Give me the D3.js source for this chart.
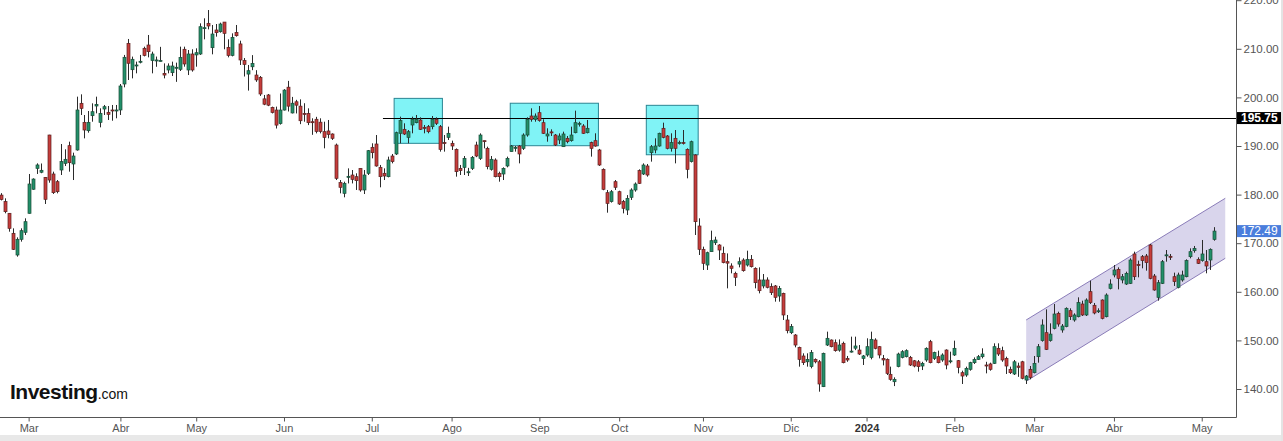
<!DOCTYPE html>
<html><head><meta charset="utf-8">
<script src="https://cdn.jsdelivr.net/npm/d3@7"></script>
<style>
html,body{margin:0;padding:0;background:#fff;overflow:hidden;}
svg{display:block;}
text{font-family:"Liberation Sans",Arial,sans-serif;}
</style></head><body>
<svg id="c" width="1283" height="441"></svg>
<script>
const openP=[
179.9,178.55,176.15,172.03,167.57,170.8,172.24,176.15,181.1,185.4,
184.6,183.55,192.26,184.24,182.66,185.06,186.43,190.07,186.3,189.18,
198.78,194.87,193.15,196.24,198.23,194.87,197.61,196.93,197.41,197.2,
197.41,202.76,211.12,205.7,206.6,207.29,210.1,210.78,207.57,207.5,
207.5,204.95,205.64,205.09,206.0,205.78,209.9,205.64,208.93,208.74,
208.93,214.2,215.24,210.23,213.87,213.52,215.5,210.3,208.65,213.38,
211.0,207.57,204.8,206.3,204.6,204.13,199.7,200.5,197.95,197.4,
194.6,197.4,202.1,196.8,199.1,198.2,196.7,196.7,195.0,195.5,
194.9,192.95,193.09,192.47,190.2,182.46,180.26,183.55,184.03,183.69,
185.4,180.95,184.38,189.73,190.41,185.61,184.38,183.69,187.94,188.36,
192.61,193.43,191.78,194.32,194.8,195.35,193.84,193.98,193.98,195.49,
193.98,190.69,191.78,190.55,189.31,185.4,185.61,184.6,185.4,190.2,
187.46,191.1,189.52,185.2,187.12,184.38,184.24,185.89,188.84,189.7,
190.0,189.52,192.26,196.17,195.49,196.86,194.8,192.06,192.9,192.26,
191.24,189.86,191.58,191.1,192.74,194.6,194.12,192.74,190.69,191.1,
189.18,185.2,180.4,178.55,182.66,180.6,178.55,176.83,179.44,180.95,
184.93,184.24,185.89,188.63,189.18,190.0,193.64,192.06,189.52,191.58,
190.6,190.7,189.31,186.78,188.15,173.54,168.74,165.51,168.26,170.1,
169.63,167.92,166.2,165.31,163.8,165.7,166.54,165.51,166.68,164.83,
162.43,161.2,162.43,161.06,161.2,159.13,159.68,154.2,151.59,151.11,
148.57,146.79,145.6,144.6,146.1,145.6,140.48,149.05,150.08,149.53,
148.0,149.4,146.3,147.7,148.4,148.02,146.3,147.0,146.5,150.08,
148.71,146.3,146.1,143.02,141.5,144.6,146.5,146.65,146.5,145.8,
145.6,144.73,145.97,149.74,146.3,146.65,145.97,148.02,145.7,147.0,
145.83,143.36,142.88,144.05,145.42,146.1,146.65,144.94,145.15,145.28,
148.37,147.89,146.3,144.05,143.09,144.73,145.6,141.85,144.05,143.36,
146.65,149.95,151.59,149.95,152.48,155.57,152.14,152.83,156.12,154.2,
154.88,157.49,155.23,160.03,157.22,156.05,158.31,154.88,160.71,163.46,
164.62,162.43,161.6,161.74,167.78,165.6,167.23,167.37,169.63,163.25,
158.86,161.74,167.5,167.3,163.11,160.92,162.43,163.11,167.23,168.46,
166.68,166.41,166.2,166.54,170.79];
const highP=[
180.3,179.23,176.2,173.06,171.2,173.06,175.12,184.24,183.35,186.43,
186.4,183.6,192.3,184.72,183.0,190.41,189.32,190.89,188.63,200.15,
200.63,196.38,197.2,198.78,200.15,197.75,198.44,198.23,198.44,198.44,
202.76,208.74,212.02,208.39,207.36,208.74,210.44,212.84,209.41,208.4,
210.4,207.0,207.0,207.36,207.15,210.44,210.44,209.75,209.9,210.1,
215.24,216.27,217.98,214.9,215.1,215.38,215.5,211.95,213.18,214.9,
211.67,208.1,206.67,208.7,205.6,204.4,200.5,200.7,198.1,198.1,
200.8,201.7,203.4,200.1,199.5,199.6,198.8,197.75,195.7,196.0,
195.7,195.0,195.35,192.6,190.5,183.0,182.66,185.4,185.06,184.38,
185.4,185.06,189.18,190.55,192.26,186.1,185.4,187.81,188.36,192.95,
196.04,194.67,193.29,196.04,196.38,195.9,194.32,194.32,196.17,195.9,
194.32,192.26,193.98,191.1,189.5,186.1,187.94,185.5,187.94,190.89,
192.6,191.1,189.86,187.94,187.46,184.72,185.61,187.81,190.2,190.0,
190.2,192.6,195.9,197.75,196.7,198.23,195.49,193.64,193.43,192.47,
192.6,192.95,192.06,193.98,197.27,195.0,194.5,195.35,190.9,192.61,
189.4,185.4,180.95,180.95,183.0,180.8,178.9,179.9,181.3,182.5,
185.2,186.43,186.3,190.2,191.58,192.74,194.8,192.26,192.61,193.29,
191.1,193.29,189.52,191.1,188.3,175.12,169.29,168.26,172.58,171.34,
169.8,169.29,167.9,165.86,164.14,167.09,166.9,168.46,167.57,165.03,
165.03,163.66,162.98,161.74,161.4,161.2,159.82,155.23,153.37,151.3,
148.71,147.34,147.34,148.02,146.3,145.97,147.48,151.8,150.2,150.2,
150.2,149.74,146.8,150.77,150.77,149.05,147.0,150.43,151.8,150.43,
148.85,147.0,146.3,144.6,142.4,147.48,148.0,148.16,146.8,145.97,
145.97,145.6,148.57,150.1,147.68,147.89,147.34,148.16,147.68,149.95,
145.97,143.77,144.6,145.6,146.5,147.0,148.37,145.6,145.42,149.4,
149.4,148.71,146.65,144.6,145.97,145.42,145.8,142.88,144.73,146.79,
149.26,154.33,156.39,153.51,157.49,155.91,153.37,156.8,156.6,155.57,
158.86,158.17,158.65,162.29,157.7,156.6,158.45,159.68,162.57,165.51,
165.03,163.66,164.14,166.89,168.26,166.41,167.57,167.78,169.84,163.66,
162.43,166.54,168.6,167.78,163.94,163.94,164.35,166.68,168.94,169.43,
167.09,170.66,168.6,168.94,173.3];
const lowP=[
178.8,176.15,172.37,168.6,167.23,170.32,171.69,176.1,181.0,184.24,
184.4,178.07,182.45,180.13,180.26,184.03,185.88,184.72,183.0,189.04,
196.38,191.57,192.74,195.0,196.72,193.84,196.38,195.35,195.2,195.7,
196.38,202.07,203.58,203.92,204.95,207.0,208.44,208.24,204.95,206.3,
207.4,203.92,204.95,204.4,203.2,205.43,206.32,204.6,205.3,206.32,
208.74,211.95,214.0,208.86,212.5,213.32,209.9,208.24,208.44,212.5,
206.67,204.3,201.4,205.6,203.2,200.3,198.4,198.2,196.7,193.6,
194.4,197.3,197.1,196.7,196.7,194.5,195.0,194.3,192.3,192.6,
192.6,189.52,191.58,191.24,183.0,180.26,179.44,182.3,182.3,180.95,
180.6,180.12,184.03,187.46,185.75,181.5,183.0,183.55,186.43,188.15,
190.55,192.26,190.55,192.61,194.67,193.29,192.61,192.61,193.43,194.32,
188.84,188.84,191.24,189.18,183.69,184.03,184.03,183.83,185.06,187.7,
187.12,189.52,185.2,184.93,183.55,182.66,183.0,185.61,188.84,188.84,
186.43,189.18,191.92,195.0,195.0,195.0,192.47,190.89,192.06,190.0,
190.4,189.86,190.55,190.89,192.61,194.0,192.47,192.6,187.81,189.86,
185.9,180.9,176.28,178.35,180.95,177.87,176.14,175.8,178.9,180.6,
182.2,184.03,183.69,186.78,188.5,189.86,191.58,189.31,188.84,186.43,
190.3,190.3,183.35,186.6,171.69,167.57,164.49,164.49,168.26,169.63,
166.54,165.86,160.71,163.8,161.2,165.03,164.14,165.2,165.0,160.71,
159.68,160.71,160.71,159.34,157.97,157.97,154.2,151.45,151.3,148.57,
144.6,144.94,144.6,144.25,145.28,139.45,140.4,148.85,148.57,147.68,
147.68,145.28,145.6,147.5,148.0,147.0,144.94,146.65,146.1,148.16,
146.3,144.86,142.88,141.7,140.6,144.46,146.3,146.5,144.73,144.46,
143.57,143.9,145.6,145.28,145.97,145.28,145.6,144.05,145.28,146.8,
143.22,141.03,142.5,143.77,145.15,145.97,146.3,143.22,143.77,145.15,
146.8,145.6,143.09,143.09,142.88,142.5,141.99,141.03,141.99,143.22,
145.42,149.74,148.02,149.74,152.27,152.83,151.59,152.7,154.2,153.85,
154.74,155.02,155.02,157.49,155.36,155.64,154.33,154.74,160.5,162.98,
160.5,161.74,161.4,161.6,162.43,162.98,164.83,164.35,162.57,160.23,
158.17,161.6,166.2,166.54,161.2,160.71,162.09,162.98,166.89,168.05,
165.72,166.2,163.8,164.49,170.52];
const closeP=[
179.0,176.49,173.06,168.74,170.8,172.58,174.43,182.18,183.2,186.1,
185.0,179.03,183.0,180.4,180.6,186.78,187.26,186.57,187.94,197.41,
197.75,193.29,194.87,197.06,198.57,196.72,198.09,196.52,197.27,197.41,
202.35,208.25,207.02,207.84,206.67,207.43,208.65,209.41,208.93,207.7,
207.6,204.6,206.46,206.46,206.2,208.24,206.88,208.93,205.64,209.2,
214.55,214.35,214.69,213.04,213.32,215.1,213.18,208.65,212.36,212.7,
207.7,206.8,205.5,207.0,203.6,200.7,198.6,198.4,196.9,194.3,
197.4,201.5,198.2,198.8,198.4,195.2,196.6,194.8,194.8,193.0,
193.0,191.78,192.4,191.58,183.35,181.5,182.32,183.76,183.14,182.87,
180.95,184.03,189.04,188.63,185.89,183.69,183.83,187.12,186.78,192.74,
195.22,192.47,192.95,195.49,195.49,193.43,193.64,192.95,195.49,194.67,
189.31,190.6,192.61,190.0,184.72,184.93,187.46,184.7,187.67,187.94,
192.26,191.0,185.75,187.26,183.69,183.69,185.4,187.46,190.0,189.73,
188.36,192.26,195.49,195.49,196.17,195.22,192.61,192.47,192.8,190.2,
192.06,192.47,190.89,192.26,194.8,194.67,192.61,193.64,189.52,190.0,
186.09,181.09,178.2,180.6,181.5,178.07,177.18,179.23,180.95,182.18,
182.32,186.09,184.03,189.86,190.0,192.61,191.78,189.52,190.69,189.52,
190.7,190.6,185.2,190.89,174.43,168.74,165.86,168.05,170.52,170.66,
168.6,166.0,165.9,164.83,162.98,166.2,164.35,166.68,165.17,161.88,
160.23,162.43,160.92,159.82,158.86,160.71,155.23,152.0,152.83,149.05,
146.1,145.42,146.1,147.48,145.6,141.03,147.34,150.43,148.71,147.89,
149.05,145.42,145.97,147.8,148.85,147.2,146.8,148.71,150.22,148.37,
147.0,145.97,143.22,141.99,141.99,147.2,147.68,147.89,144.94,144.73,
144.6,145.28,148.37,145.42,147.48,145.42,147.0,144.94,145.8,148.37,
144.46,142.67,144.25,145.42,146.1,146.65,147.2,144.73,144.05,148.71,
147.2,145.97,144.73,143.36,145.6,144.46,142.2,142.67,142.4,145.28,
148.71,153.17,148.16,151.3,155.43,153.37,152.96,156.6,154.88,155.23,
157.77,155.23,158.31,157.77,155.64,156.1,154.54,159.34,161.6,164.49,
162.77,163.11,163.8,166.54,163.11,165.5,166.41,166.0,162.77,160.37,
161.88,166.2,167.6,167.2,162.09,163.46,163.46,166.41,168.26,168.94,
165.86,167.78,165.31,168.74,172.49];

// month ticks (candle index) and labels
const tickIdx=[7,30,49,71,93,113,135,155,176,198,217,239,259,279,301];
const tickLabels=["Mar","Abr","May","Jun","Jul","Ago","Sep","Oct","Nov","Dic","2024","Feb","Mar","Abr","May"];
const priceTicks=[140,150,160,170,180,190,200,210,220];

// annotations (candle index, price)
const boxStart=[98.6,127.7,161.8];
const boxEnd=[110.7,149.8,174.8];
const boxTop=[199.8,198.8,198.37];
const boxBottom=[190.55,190.06,188.2];
const resistanceLevel=195.75, resistanceStart=95.8;
const lastPrice=172.49;
const channelIdx=[257,306.9,306.9,257];
const channelPrice=[154.2,179.24,166.9,141.6];

const svg=d3.select("#c");
const plotRight=1236, plotBottom=417;
const x=d3.scaleLinear().domain([0,304]).range([0.7,1213.7]);
const y=d3.scaleLinear().domain([140,220]).range([389,0.2]);

// background strips
svg.append("rect").attr("x",0).attr("y",435).attr("width",1283).attr("height",6).attr("fill","#e8e8e8");
svg.append("rect").attr("x",1281).attr("y",0).attr("width",2).attr("height",441).attr("fill","#e4e4e4");

const plot=svg.append("g");

// channel
const chPts=channelIdx.map((d,i)=>[x(d),y(channelPrice[i])]);
plot.append("path").attr("d","M"+chPts.map(p=>p.join(",")).join("L")+"Z")
  .attr("fill","#d9d5ec").attr("stroke","none");
plot.append("line").attr("x1",chPts[0][0]).attr("y1",chPts[0][1]).attr("x2",chPts[1][0]).attr("y2",chPts[1][1]).attr("stroke","#8a7cb8").attr("stroke-width",1);
plot.append("line").attr("x1",chPts[3][0]).attr("y1",chPts[3][1]).attr("x2",chPts[2][0]).attr("y2",chPts[2][1]).attr("stroke","#8a7cb8").attr("stroke-width",1);

// boxes
boxStart.forEach((s,i)=>{
  plot.append("rect").attr("x",x(s)).attr("y",y(boxTop[i]))
   .attr("width",x(boxEnd[i])-x(s)).attr("height",y(boxBottom[i])-y(boxTop[i]))
   .attr("fill","#80f3f6").attr("stroke","#2b8593").attr("stroke-width",1);
});

// resistance line
plot.append("line").attr("x1",x(resistanceStart)).attr("x2",plotRight)
  .attr("y1",Math.round(y(resistanceLevel))+0.5).attr("y2",Math.round(y(resistanceLevel))+0.5)
  .attr("stroke","#000").attr("stroke-width",1);

// candles
const idx=d3.range(openP.length);
const cg=plot.append("g");
idx.forEach(i=>{
  const o=openP[i],h=highP[i],l=lowP[i],c=closeP[i];
  const up=c>=o;
  const cx=Math.round(x(i))+0.5;
  cg.append("line").attr("x1",cx).attr("x2",cx).attr("y1",y(h)).attr("y2",y(l))
    .attr("stroke","#2b2b2b").attr("stroke-width",1);
  const top=y(Math.max(o,c)), bot=y(Math.min(o,c));
  cg.append("rect").attr("x",cx-1.5).attr("width",3)
    .attr("y",top).attr("height",Math.max(1,bot-top))
    .attr("fill",up?"#22906a":"#c63d3b")
    .attr("stroke",up?"#1a4a36":"#5a1f1f").attr("stroke-width",0.7);
});

// frame lines
svg.append("line").attr("x1",0).attr("x2",plotRight+0.5).attr("y1",plotBottom+0.5).attr("y2",plotBottom+0.5).attr("stroke","#555");
svg.append("line").attr("x1",plotRight+0.5).attr("x2",plotRight+0.5).attr("y1",0).attr("y2",plotBottom+0.5).attr("stroke","#555");

// x axis
const xAxis=d3.axisBottom(x).tickValues(tickIdx).tickFormat((d,i)=>tickLabels[i]).tickSize(4).tickPadding(3);
const gx=svg.append("g").attr("transform",`translate(0,${plotBottom+0.5})`).call(xAxis);
gx.select(".domain").remove();
gx.selectAll(".tick line").attr("stroke","#555");
gx.selectAll(".tick text").style("font-size","11px")
  .style("font-family","'Liberation Sans',Arial,sans-serif")
  .style("font-weight",(d,i)=>tickLabels[i]==="2024"?"bold":"normal")
  .attr("fill",(d,i)=>tickLabels[i]==="2024"?"#333":"#555");

// y axis
const yAxis=d3.axisRight(y).tickValues(priceTicks).tickFormat(d3.format(".2f")).tickSize(5).tickPadding(2);
const gy=svg.append("g").attr("transform",`translate(${plotRight+0.5},0)`).call(yAxis);
gy.select(".domain").remove();
gy.selectAll(".tick line").attr("stroke","#555");
gy.selectAll(".tick text").attr("fill","#555").style("font-size","11.5px")
  .style("font-family","'Liberation Sans',Arial,sans-serif");

// price tags
function tag(v,bg,weight){
  const yy=y(v);
  svg.append("rect").attr("x",plotRight+1).attr("y",yy-6).attr("width",44).attr("height",12).attr("fill",bg);
  svg.append("text").attr("x",plotRight+5).attr("y",yy+4.3).text(d3.format(".2f")(v))
    .attr("fill","#fff").style("font-size","12px").style("font-weight",weight);
}
tag(resistanceLevel,"#000","bold");
tag(lastPrice,"#4a7ddc","normal");

// logo
const logo=svg.append("text").attr("x",10).attr("y",399).attr("fill","#111");
logo.append("tspan").text("Investing").style("font-size","21px").style("font-weight","bold").style("letter-spacing","-0.5px");
logo.append("tspan").text(".com").style("font-size","14px").style("font-weight","normal");
</script>
</body></html>
